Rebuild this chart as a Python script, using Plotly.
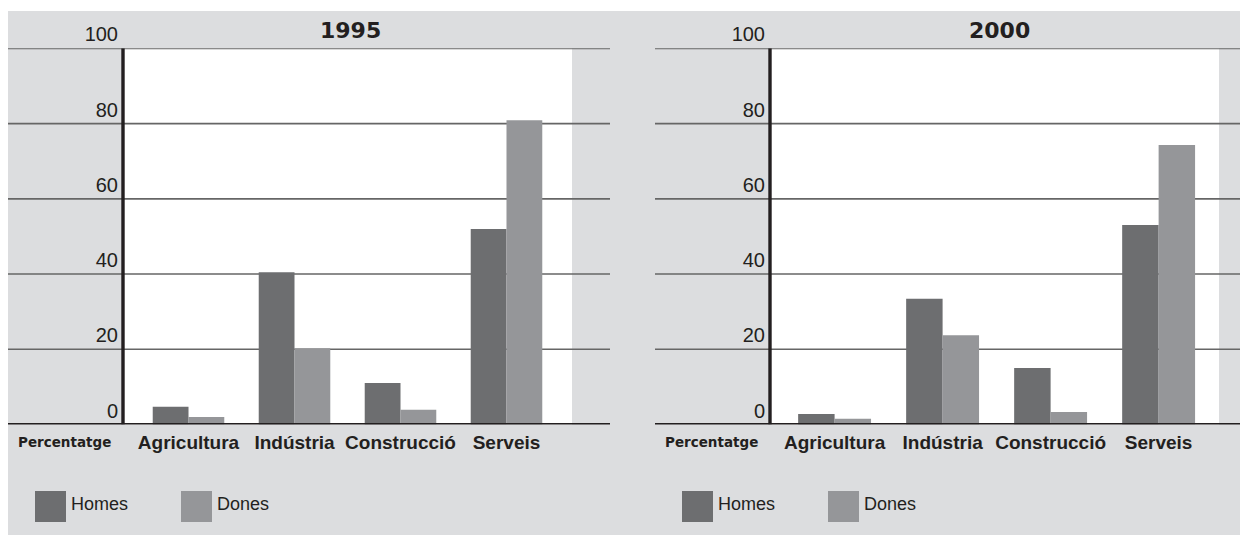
import plotly.graph_objects as go

W, H = 1247, 535

# ---------------- data ----------------
categories = ["Agricultura", "Indústria", "Construcció", "Serveis"]
panel_titles = ["1995", "2000"]
series_names = ["Homes", "Dones"]
homes_1995 = [4.7, 40.5, 11.0, 52.0]
dones_1995 = [2.0, 20.3, 3.9, 80.9]
homes_2000 = [2.8, 33.4, 15.0, 53.0]
dones_2000 = [1.5, 23.7, 3.3, 74.3]
y_ticks = [0, 20, 40, 60, 80, 100]
y_label = "Percentatge"

# ---------------- style ----------------
COL_H = "#6d6e70"
COL_D = "#959699"
BG = "#dcdddf"
GRID = "#666666"
AXIS = "#231f20"
TXT = "#231f20"

TOP, BASE = 48.3, 424.5


def px(x):
    return x / W


def py(y):
    return 1 - y / H


panels = [
    dict(left=123, right=572, gray_l=8, gray_r=610, xrange=[-0.618, 3.618],
         title_x=350, leg_x=35, leg_x2=181, homes=homes_1995, dones=dones_1995),
    dict(left=770, right=1219, gray_l=655, gray_r=1240, xrange=[-0.598, 3.559],
         title_x=999, leg_x=682, leg_x2=828, homes=homes_2000, dones=dones_2000),
]

fig = go.Figure()
shapes = []
annotations = []

# background
shapes.append(dict(type="rect", xref="paper", yref="paper", x0=px(8), x1=px(1240),
                   y0=py(535), y1=py(11), fillcolor=BG, line_width=0, layer="below"))

for i, p in enumerate(panels):
    n = "" if i == 0 else str(i + 1)
    xa, ya = "x" + n, "y" + n
    fig.add_trace(go.Bar(x=categories, y=p["homes"], name=series_names[0],
                         marker=dict(color=COL_H, line_width=0),
                         xaxis=xa, yaxis=ya, showlegend=False))
    fig.add_trace(go.Bar(x=categories, y=p["dones"], name=series_names[1],
                         marker=dict(color=COL_D, line_width=0),
                         xaxis=xa, yaxis=ya, showlegend=False))

    xdom = [px(p["left"]), px(p["right"])]
    ydom = [py(BASE), py(TOP)]
    fig.update_layout(**{
        "xaxis" + n: dict(domain=xdom, range=p["xrange"], anchor=ya, showline=False,
                          showgrid=False, zeroline=False, ticks="", automargin=False,
                          fixedrange=True,
                          tickfont=dict(family="Liberation Sans", size=19, color=TXT, weight="bold"),
                          ticklabelstandoff=4),
        "yaxis" + n: dict(domain=ydom, range=[0, 100], anchor=xa, tickvals=y_ticks,
                          showgrid=False, zeroline=False, showline=False, ticks="",
                          automargin=False, fixedrange=True,
                          ticklabelposition="outside top",
                          tickfont=dict(family="Liberation Sans", size=20, color=TXT),
                          ticklabelstandoff=4),
    })

    # white plotting area
    shapes.append(dict(type="rect", xref="paper", yref="paper", x0=px(p["left"]), x1=px(p["right"]),
                       y0=py(BASE), y1=py(TOP), fillcolor="white", line_width=0, layer="below"))
    # grid lines across the panel
    for v in y_ticks[1:]:
        shapes.append(dict(type="line", xref="paper", yref=ya, x0=px(p["gray_l"]), x1=px(p["gray_r"]),
                           y0=v, y1=v, line=dict(color=GRID, width=1.7), layer="below"))
    # baseline
    shapes.append(dict(type="line", xref="paper", yref=ya, x0=px(p["gray_l"]), x1=px(p["gray_r"]),
                       y0=0, y1=0, line=dict(color=AXIS, width=3.2), layer="above"))
    # vertical axis
    shapes.append(dict(type="line", xref=xa + " domain", yref=ya, x0=0, x1=0,
                       y0=0, y1=100, line=dict(color=AXIS, width=3.4), layer="above"))

    # title
    annotations.append(dict(text="<b>%s</b>" % panel_titles[i], xref="paper", yref="paper",
                            x=px(p["title_x"]), y=py(30), showarrow=False,
                            font=dict(family="DejaVu Sans", size=22, color=TXT),
                            xanchor="center", yanchor="middle"))
    # axis label
    annotations.append(dict(text="<b>%s</b>" % y_label, xref="paper", yref="paper",
                            x=px(p["left"] - 10), y=py(442), showarrow=False,
                            font=dict(family="DejaVu Sans", size=13.5, color=TXT),
                            xanchor="right", yanchor="middle"))
    # legend
    for lx, col, name in [(p["leg_x"], COL_H, series_names[0]), (p["leg_x2"], COL_D, series_names[1])]:
        shapes.append(dict(type="rect", xref="paper", yref="paper", x0=px(lx), x1=px(lx + 31),
                           y0=py(522), y1=py(491), fillcolor=col, line_width=0, layer="above"))
        annotations.append(dict(text=name, xref="paper", yref="paper", x=px(lx + 34), y=py(504),
                                showarrow=False, xanchor="left", yanchor="middle",
                                font=dict(family="Liberation Sans", size=18, color=TXT)))

fig.update_layout(
    width=W, height=H,
    margin=dict(l=0, r=0, t=0, b=0, autoexpand=False),
    paper_bgcolor="white",
    plot_bgcolor="rgba(0,0,0,0)",
    barmode="group",
    bargap=0.325,
    bargroupgap=0,
    shapes=shapes,
    annotations=annotations,
    showlegend=False,
)

fig.write_html("out.html", config={"displayModeBar": False},
               post_script="document.body.style.margin='0';document.body.style.overflow='hidden';")
